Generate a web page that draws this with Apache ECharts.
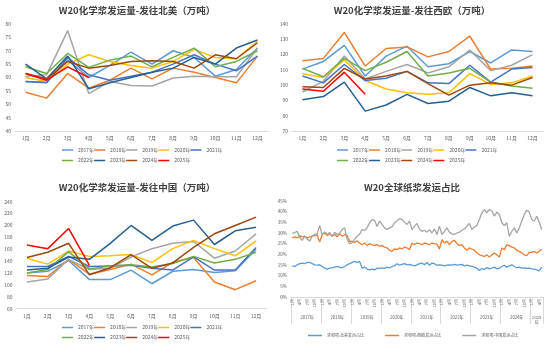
<!DOCTYPE html>
<html>
<head>
<meta charset="utf-8">
<script src="https://cdn.jsdelivr.net/npm/echarts@6/dist/echarts.min.js"></script>
<style>
  html, body { margin: 0; padding: 0; background: #fff; }
  #chart { width: 550px; height: 346px; }
</style>
</head>
<body>
<div id="chart"></div>
<script>
// Month categories for the three volume panels
const months = ['1月', '2月', '3月', '4月', '5月', '6月', '7月', '8月', '9月', '10月', '11月', '12月'];
const yearNames = ['2017年', '2018年', '2019年', '2020年', '2021年', '2022年', '2023年', '2024年', '2025年'];

// W20 chemical pulp shipments to North America (10k t), one row per year
const naRows = [
  [58.5, 58.2, 66.5, 60.0, 64.5, 69.5, 65.0, 70.0, 67.5, 60.5, 63.0, 71.0],
  [54.5, 52.3, 61.5, 56.0, 59.0, 63.5, 59.5, 63.5, 62.0, 60.0, 58.0, 68.0],
  [60.5, 61.0, 77.5, 54.0, 58.5, 57.0, 56.8, 59.8, 60.5, 60.3, 60.3, 71.0],
  [60.0, 58.5, 65.0, 68.5, 66.0, 64.5, 63.5, 66.0, 70.5, 67.5, 67.0, 73.5],
  [58.5, 58.0, 67.5, 61.0, 59.0, 60.5, 62.0, 65.0, 68.5, 65.0, 62.5, 68.0],
  [64.0, 61.5, 69.0, 63.8, 66.5, 68.0, 64.0, 67.5, 71.0, 64.0, 66.0, 70.0],
  [65.0, 59.5, 68.0, 55.8, 58.0, 60.0, 62.0, 63.5, 67.5, 65.0, 71.0, 74.0],
  [61.5, 59.5, 66.0, 63.5, 64.5, 66.0, 66.3, 66.0, 63.5, 68.5, 67.0, 73.0],
  [61.5, 59.0, 64.0, 60.0]
];

// Shipments to Western Europe (10k t)
const weRows = [
  [110.5, 115.5, 126.0, 106.0, 119.0, 125.5, 112.0, 114.0, 122.0, 114.5, 123.0, 122.0],
  [116.0, 117.5, 134.5, 112.5, 124.0, 125.0, 118.5, 122.0, 132.0, 110.5, 111.0, 112.5],
  [95.5, 102.5, 119.0, 104.0, 109.0, 113.5, 108.0, 112.0, 123.0, 109.5, 113.0, 120.0],
  [107.5, 105.0, 116.5, 103.0, 97.5, 95.0, 94.0, 95.0, 107.5, 100.5, 101.5, 106.0],
  [106.0, 101.5, 113.5, 103.0, 104.5, 109.0, 101.5, 101.0, 113.0, 102.0, 110.5, 111.5],
  [111.0, 105.5, 117.5, 109.5, 115.0, 122.0, 106.0, 108.0, 111.0, 102.0, 99.5, 98.0],
  [90.5, 92.5, 102.0, 83.0, 87.0, 94.0, 88.0, 89.5, 98.5, 93.0, 95.0, 93.0],
  [99.0, 98.5, 111.0, 104.0, 106.0, 109.0, 101.0, 93.5, 100.0, 101.5, 100.0, 105.0],
  [97.5, 96.0, 108.5, 94.0]
];

// Shipments to China (10k t)
const cnRows = [
  [120, 123, 141, 109, 109, 125, 102, 123, 126, 121, 124, 160],
  [116, 114, 143, 118, 126, 135, 117, 138, 146, 105, 92, 107],
  [105, 110, 143, 126, 128, 147, 161, 170, 173, 145, 157, 186],
  [145, 135, 157, 148, 149, 151, 138, 161, 175, 161, 149, 174],
  [131, 131, 148, 131, 132, 133, 128, 125, 147, 125, 125, 163],
  [120, 126, 156, 127, 132, 134, 130, 136, 148, 137, 143, 155],
  [125, 128, 147, 143, 170, 200, 175, 199, 209, 168, 191, 197],
  [146, 155, 170, 117, 129, 151, 128, 137, 163, 186, 200, 214],
  [167, 161, 195, 133]
];

// Global pulp shipment shares (%), monthly 2017-01 .. 2025-05
const shareYears = ['2017', '2018', '2019', '2020', '2021', '2022', '2023', '2024', '2025'];
const shareMonthsPerYear = [12, 12, 12, 12, 12, 12, 12, 12, 5];
const shareNames = ['求和项:北美发运占比', '求和项:西欧发运占比', '求和项:中国发运占比'];
const shareNA = [
  14.6, 14.3, 15.1, 15.6, 15.9, 15.6, 16.2, 16.2, 15.6, 15.1, 14.9, 15.1,
  14.3, 13.5, 13.1, 13.5, 13.7, 14.0, 14.3, 14.0, 13.7, 14.3, 15.1, 15.6,
  16.2, 16.7, 16.2, 16.7, 13.5, 14.0, 13.1, 12.7, 13.1, 12.7, 13.5, 13.4,
  13.7, 13.4, 14.0, 13.7, 14.3, 14.6, 15.6, 14.9, 15.3, 15.6, 15.1, 15.3,
  14.9, 14.6, 15.1, 15.6, 15.9, 15.1, 16.2, 14.9, 15.9, 15.6, 14.9, 15.1,
  14.9, 14.6, 14.9, 15.1, 14.9, 15.3, 14.9, 15.1, 15.3, 14.6, 14.9, 14.6,
  14.3, 14.0, 13.5, 12.4, 13.4, 12.9, 13.8, 13.2, 13.5, 14.0, 13.2, 13.5,
  14.3, 14.9, 14.0, 14.6, 15.1, 14.3, 13.7, 14.0, 13.5, 13.7, 13.4, 13.5,
  13.2, 13.1, 12.7, 12.3, 14.0
];
const shareWE = [
  27.7, 28.2, 27.7, 28.8, 28.2, 28.5, 27.7, 28.2, 28.5, 28.8, 29.0, 25.8,
  29.3, 30.0, 28.8, 29.6, 28.5, 29.3, 28.2, 29.6, 28.5, 29.3, 28.8, 26.1,
  26.1, 25.6, 26.3, 25.3, 24.5, 25.3, 24.1, 25.0, 24.5, 24.1, 24.5, 23.8,
  24.1, 23.4, 23.0, 21.9, 21.4, 22.5, 22.2, 23.0, 22.5, 23.4, 23.0, 22.2,
  25.3, 24.5, 25.3, 25.0, 24.5, 25.3, 25.0, 24.5, 25.3, 25.0, 24.8, 22.5,
  26.9, 25.3, 26.1, 24.5, 26.1, 26.6, 25.0, 24.1, 24.5, 23.0, 21.9, 23.0,
  22.5, 21.9, 20.9, 19.8, 19.4, 19.0, 19.8, 18.7, 19.8, 20.6, 19.8, 18.7,
  23.0, 22.2, 24.5, 24.1, 23.4, 23.0, 21.9, 21.4, 20.6, 19.8, 19.4, 20.9,
  20.9, 21.4, 20.6, 21.4, 22.5
];
const shareCN = [
  29.8, 30.2, 30.8, 28.0, 26.5, 28.5, 27.2, 26.2, 28.5, 29.3, 29.6, 33.5,
  29.0, 30.5, 29.5, 30.2, 28.5, 30.3, 29.4, 29.8, 31.6, 32.4, 27.0, 25.0,
  25.5, 27.0, 28.5, 29.5, 31.6, 31.2, 32.4, 34.8, 36.3, 36.0, 33.0, 35.6,
  34.0, 32.4, 31.6, 32.4, 32.9, 34.8, 35.6, 36.7, 36.3, 35.1, 34.0, 35.6,
  31.6, 33.2, 34.5, 31.9, 30.8, 31.3, 30.4, 31.6, 30.0, 31.9, 29.3, 33.2,
  29.3, 30.8, 32.4, 30.4, 29.6, 29.3, 30.0, 30.4, 31.3, 31.9, 33.2, 34.5,
  31.6, 32.9, 33.5, 36.3, 39.5, 41.0, 39.5, 41.0, 40.3, 37.9, 39.8, 38.7,
  34.8, 33.5, 34.8, 28.5, 30.8, 32.4, 30.0, 32.4, 35.6, 38.7, 40.7, 39.8,
  36.3, 35.6, 37.9, 35.0, 31.6
];

// Series palette (Office theme order, 2025 highlighted in red)
const yearColors = ['#5B9BD5', '#ED7D31', '#A5A5A5', '#FFC000', '#4472C4', '#70AD47', '#255E91', '#9E480E', '#FF0000'];
const shareColors = ['#5B9BD5', '#ED7D31', '#A5A5A5'];

// Month keys "YYYY-MM" for the share panel's two-level axis
const shareKeys = [];
shareYears.forEach(function (y, i) {
  for (let m = 1; m <= shareMonthsPerYear[i]; m++) {
    shareKeys.push(y + '-' + (m < 10 ? '0' + m : '' + m));
  }
});

const labelColor = '#595959';
const axisColor = '#D9D9D9';
const fontFam = '"Noto Sans CJK SC", "Noto Sans", sans-serif';

function volumeXAxis(grid) {
  return {
    type: 'category', gridIndex: grid, data: months, boundaryGap: true,
    axisLine: { lineStyle: { color: axisColor, width: 1 } },
    axisTick: { show: false },
    axisLabel: { color: labelColor, fontSize: 5, margin: 5, fontFamily: fontFam, interval: 0 }
  };
}
function volumeYAxis(grid, min, max, step) {
  return {
    type: 'value', gridIndex: grid, min: min, max: max, interval: step,
    axisLine: { show: false }, axisTick: { show: false }, splitLine: { show: false },
    axisLabel: { color: labelColor, fontSize: 5, margin: 4, fontFamily: fontFam }
  };
}
function panelTitle(text, x, y) {
  return {
    text: text, left: x, top: y, textAlign: 'center', padding: 0,
    textStyle: { fontSize: 9.5, fontWeight: 'bold', color: '#404040', fontFamily: fontFam }
  };
}
function yearLegend(names, x, y) {
  return {
    data: names, left: x, top: y, padding: 0, itemGap: 0,
    icon: 'rect', itemWidth: 11, itemHeight: 1.5,
    textStyle: { fontSize: 5, color: labelColor, fontFamily: fontFam, padding: 0 },
    selectedMode: false
  };
}

const rowsByPanel = [naRows, weRows, cnRows];
const series = [];
rowsByPanel.forEach(function (rows, p) {
  rows.forEach(function (row, y) {
    series.push({
      type: 'line', name: yearNames[y], xAxisIndex: p, yAxisIndex: p,
      data: row, symbol: 'none', smooth: false,
      lineStyle: { width: 1.5, color: yearColors[y] },
      itemStyle: { color: yearColors[y] },
      emphasis: { disabled: true }
    });
  });
});
[shareNA, shareWE, shareCN].forEach(function (vals, i) {
  series.push({
    type: 'line', name: shareNames[i], xAxisIndex: 3, yAxisIndex: 3,
    data: vals, symbol: 'none',
    lineStyle: { width: 1.3, color: shareColors[i] },
    itemStyle: { color: shareColors[i] },
    emphasis: { disabled: true }
  });
});

const firstRow = yearNames.slice(0, 5);
const secondRow = yearNames.slice(5);

const option = {
  animation: false,
  backgroundColor: '#ffffff',
  title: [
    panelTitle('W20化学浆发运量-发往北美（万吨）', 137, 6),
    panelTitle('W20化学浆发运量-发往西欧（万吨）', 412, 6),
    panelTitle('W20化学浆发运量-发往中国（万吨）', 137, 183),
    panelTitle('W20全球纸浆发运占比', 412, 183)
  ],
  legend: [
    yearLegend(firstRow, 62, 147.5),
    yearLegend(secondRow, 62, 158),
    yearLegend(firstRow, 337, 147.5),
    yearLegend(secondRow, 337, 158),
    yearLegend(firstRow, 62, 325),
    yearLegend(secondRow, 62, 335),
    {
      data: shareNames, left: 308, top: 333.5, padding: 0, itemGap: 21,
      icon: 'rect', itemWidth: 14, itemHeight: 1.5, selectedMode: false,
      textStyle: { fontSize: 4, color: labelColor, fontFamily: fontFam, padding: 0 }
    }
  ],
  grid: [
    { left: 15, top: 24, width: 253, height: 107 },
    { left: 292, top: 24, width: 251, height: 107 },
    { left: 16.5, top: 201.7, width: 250, height: 107 },
    { left: 291, top: 201, width: 252, height: 96 }
  ],
  xAxis: [
    volumeXAxis(0),
    volumeXAxis(1),
    volumeXAxis(2),
    {
      type: 'category', gridIndex: 3, data: shareKeys, boundaryGap: true,
      axisLine: { lineStyle: { color: axisColor, width: 1 } },
      axisTick: {
        show: true, length: 27, lineStyle: { color: axisColor, width: 1 },
        interval: function (idx) { return idx % 12 === 0 || idx === shareKeys.length; }
      },
      axisLabel: {
        color: labelColor, fontSize: 4, margin: 2, rotate: 90, fontFamily: fontFam,
        interval: function (idx, val) {
          const m = val.slice(5);
          return m === '01' || m === '04' || m === '07' || m === '10';
        },
        formatter: function (val) { return parseInt(val.slice(5), 10) + '月'; }
      }
    },
    {
      type: 'category', gridIndex: 3, data: shareKeys, boundaryGap: true,
      position: 'bottom', offset: 18,
      axisLine: { show: false }, axisTick: { show: false },
      axisLabel: {
        color: labelColor, fontSize: 4.2, margin: 0, fontFamily: fontFam, lineHeight: 5,
        interval: function (idx, val) {
          const y = val.slice(0, 4), m = val.slice(5);
          const count = shareMonthsPerYear[shareYears.indexOf(y)];
          return count === 12 ? m === '07' : m === '03';
        },
        formatter: function (val) {
          const y = val.slice(0, 4);
          const count = shareMonthsPerYear[shareYears.indexOf(y)];
          return count === 12 ? y + '年' : y + '\n年';
        }
      }
    }
  ],
  yAxis: [
    volumeYAxis(0, 40, 80, 5),
    volumeYAxis(1, 70, 140, 10),
    volumeYAxis(2, 60, 240, 20),
    {
      type: 'value', gridIndex: 3, min: 0, max: 45, interval: 5,
      axisLine: { show: false }, axisTick: { show: false }, splitLine: { show: false },
      axisLabel: { color: labelColor, fontSize: 4.5, margin: 4, fontFamily: fontFam, formatter: '{value}%' }
    }
  ],
  series: series
};

const chart = echarts.init(document.getElementById('chart'), null, { renderer: 'canvas' });
chart.setOption(option);
</script>
</body>
</html>
